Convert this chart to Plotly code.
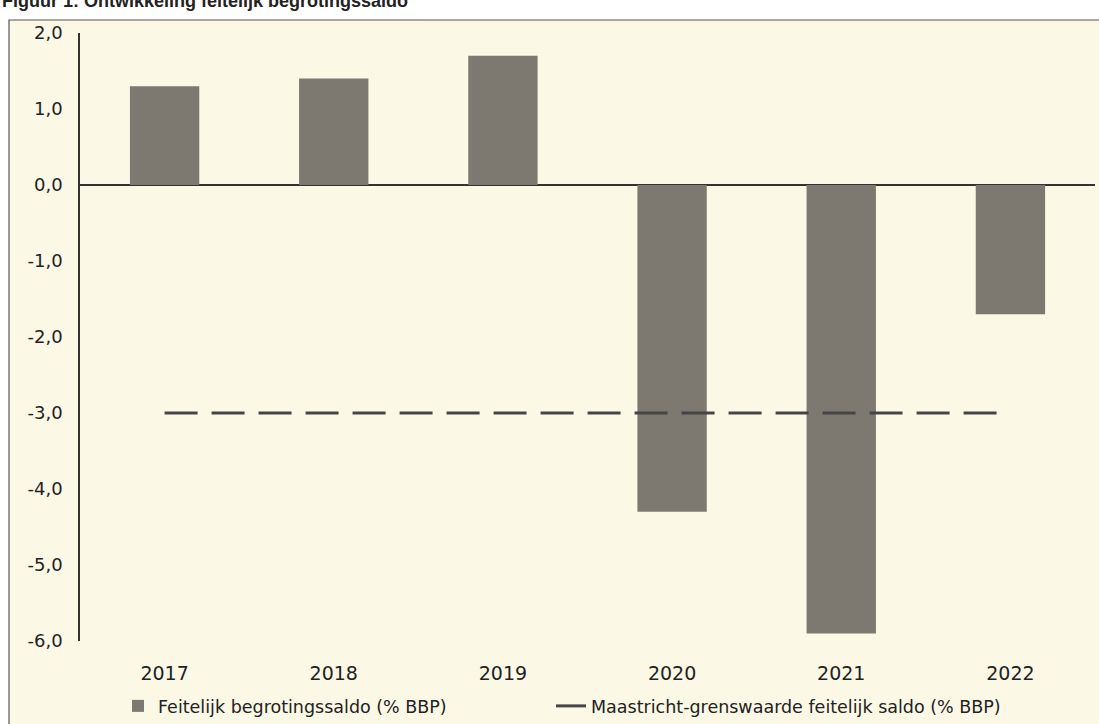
import plotly.graph_objects as go

years = ["2017", "2018", "2019", "2020", "2021", "2022"]
saldo = [1.3, 1.4, 1.7, -4.3, -5.9, -1.7]
maastricht = [-3.0, -3.0, -3.0, -3.0, -3.0, -3.0]
y_ticks = [2, 1, 0, -1, -2, -3, -4, -5, -6]
y_tick_labels = ["2,0", "1,0", "0,0", "-1,0", "-2,0", "-3,0", "-4,0", "-5,0", "-6,0"]

W, H = 1099, 724
L, R, T, B = 80, 4, 33, 83
pw, ph = W - L - R, H - T - B

def px(x):
    return (x - L) / pw

def py(y):
    return (H - B - y) / ph

FONT = "DejaVu Sans, Verdana, sans-serif"

fig = go.Figure()
fig.add_trace(go.Bar(
    x=years, y=saldo, name="Feitelijk begrotingssaldo (% BBP)",
    marker=dict(color="#7d7970", line=dict(width=0)), width=0.41, legend="legend",
))
fig.add_trace(go.Scatter(
    x=years, y=maastricht, mode="lines",
    name="Maastricht-grenswaarde feitelijk saldo (% BBP)",
    line=dict(color="#454545", width=3, dash="33px,14px"), legend="legend2",
))

fig.add_shape(type="rect", xref="paper", yref="paper",
              x0=px(9), x1=px(1110), y0=py(740), y1=py(20),
              line=dict(color="#555555", width=1.2), fillcolor="#fcf8e6", layer="below")

fig.add_annotation(text="<b>Figuur 1: Ontwikkeling feitelijk begrotingssaldo</b>",
                   xref="paper", yref="paper", x=px(0), y=py(13), xanchor="left", yanchor="bottom",
                   showarrow=False, font=dict(size=18, color="#222222", family="Liberation Sans, Arial"))

legend_common = dict(orientation="h", xanchor="left", yanchor="middle",
                     bgcolor="rgba(0,0,0,0)", font=dict(size=17.5, family=FONT))

fig.update_layout(
    width=W, height=H,
    margin=dict(l=L, r=R, t=T, b=B, autoexpand=False),
    paper_bgcolor="white", plot_bgcolor="rgba(0,0,0,0)",
    font=dict(family=FONT, size=18, color="#222222"),
    showlegend=True,
    legend=dict(x=px(118), y=py(706), **legend_common),
    legend2=dict(x=px(551), y=py(706), **legend_common),
)
fig.update_xaxes(showline=False, showgrid=False, ticks="", ticklabelstandoff=19, zeroline=False,
                 tickfont=dict(size=19))
fig.update_yaxes(range=[-6, 2], tickvals=y_ticks, ticktext=y_tick_labels, showgrid=False,
                 showline=True, linecolor="#333333", linewidth=1.5,
                 zeroline=True, zerolinecolor="#333333", zerolinewidth=1.5,
                 ticks="", ticklabelstandoff=12)

fig.write_html("out.html", config={"displayModeBar": False},
               post_script="document.body.style.margin='0px';document.body.style.padding='0px';")
